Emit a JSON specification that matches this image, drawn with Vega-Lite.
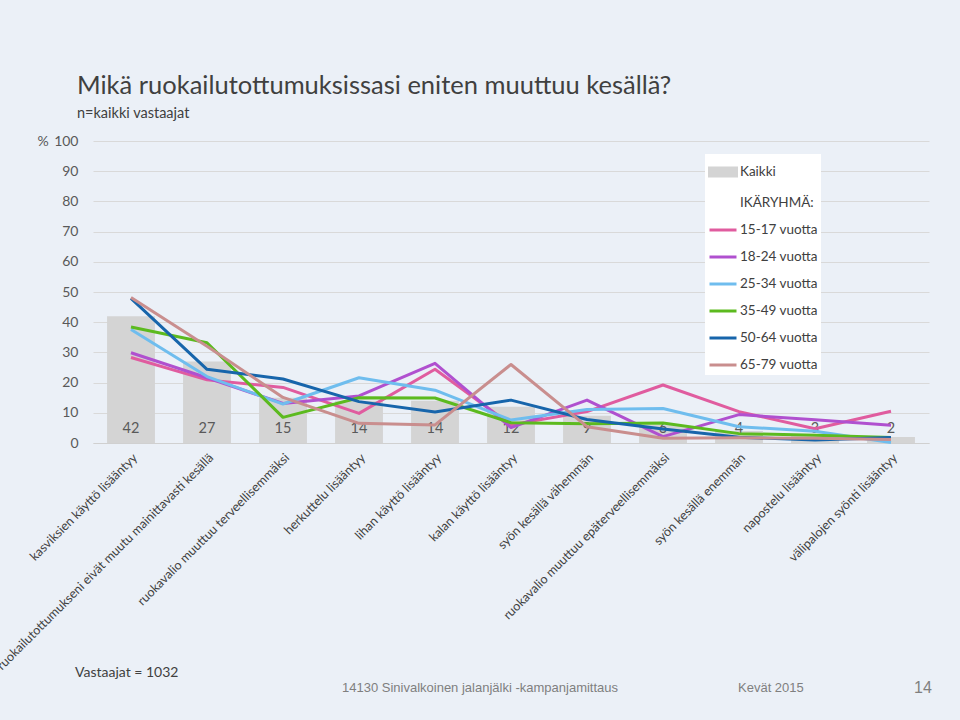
{
  "$schema": "https://vega.github.io/schema/vega-lite/v6.json",
  "width": 836,
  "height": 302,
  "autosize": {"type": "none"},
  "padding": {"left": 93, "top": 141, "right": 31, "bottom": 277},
  "background": "#ebf0f7",
  "title": {
    "text": "Mikä ruokailutottumuksissasi eniten muuttuu kesällä?",
    "subtitle": "n=kaikki vastaajat",
    "anchor": "start",
    "frame": "group",
    "dx": -16,
    "offset": 14,
    "font": "Lato",
    "fontSize": 25.5,
    "fontWeight": "normal",
    "color": "#404040",
    "subtitleFont": "Lato",
    "subtitleFontSize": 14.5,
    "subtitleColor": "#404040",
    "subtitlePadding": 7
  },
  "resolve": {"axis": {"y": "independent"}},
  "config": {
    "view": {"stroke": null},
    "font": "Lato",
    "axisY": {
      "labelOverlap": false,
      "labelFont": "Lato",
      "labelFontSize": 14,
      "labelColor": "#595959",
      "labelPadding": 15,
      "ticks": false,
      "domain": false,
      "grid": true,
      "gridColor": "#d9d9d9",
      "gridWidth": 1,
      "titleAngle": 0,
      "titleX": -56,
      "titleY": 0,
      "titleBaseline": "middle",
      "titleAlign": "left",
      "titleFont": "Lato",
      "titleFontSize": 14,
      "titleFontWeight": "normal",
      "titleColor": "#595959"
    }
  },
  "datasets": {
    "bars": [
      {"kategoria": "kasviksien käyttö lisääntyy", "arvo": 42, "ryhma": "Kaikki"},
      {"kategoria": "ruokailutottumukseni eivät muutu mainittavasti kesällä", "arvo": 27, "ryhma": "Kaikki"},
      {"kategoria": "ruokavalio muuttuu terveellisemmäksi", "arvo": 15, "ryhma": "Kaikki"},
      {"kategoria": "herkuttelu lisääntyy", "arvo": 14, "ryhma": "Kaikki"},
      {"kategoria": "lihan käyttö lisääntyy", "arvo": 14, "ryhma": "Kaikki"},
      {"kategoria": "kalan käyttö lisääntyy", "arvo": 12, "ryhma": "Kaikki"},
      {"kategoria": "syön kesällä vähemmän", "arvo": 9, "ryhma": "Kaikki"},
      {"kategoria": "ruokavalio muuttuu epäterveellisemmäksi", "arvo": 6, "ryhma": "Kaikki"},
      {"kategoria": "syön kesällä enemmän", "arvo": 4, "ryhma": "Kaikki"},
      {"kategoria": "napostelu lisääntyy", "arvo": 3, "ryhma": "Kaikki"},
      {"kategoria": "välipalojen syönti lisääntyy", "arvo": 2, "ryhma": "Kaikki"}
    ],
    "lines": [
      {"kategoria": "kasviksien käyttö lisääntyy", "ryhma": "15-17 vuotta", "arvo": 28.3},
      {"kategoria": "kasviksien käyttö lisääntyy", "ryhma": "18-24 vuotta", "arvo": 29.9},
      {"kategoria": "kasviksien käyttö lisääntyy", "ryhma": "25-34 vuotta", "arvo": 37.6},
      {"kategoria": "kasviksien käyttö lisääntyy", "ryhma": "35-49 vuotta", "arvo": 38.4},
      {"kategoria": "kasviksien käyttö lisääntyy", "ryhma": "50-64 vuotta", "arvo": 47.9},
      {"kategoria": "kasviksien käyttö lisääntyy", "ryhma": "65-79 vuotta", "arvo": 48.2},
      {"kategoria": "ruokailutottumukseni eivät muutu mainittavasti kesällä", "ryhma": "15-17 vuotta", "arvo": 20.9},
      {"kategoria": "ruokailutottumukseni eivät muutu mainittavasti kesällä", "ryhma": "18-24 vuotta", "arvo": 21.6},
      {"kategoria": "ruokailutottumukseni eivät muutu mainittavasti kesällä", "ryhma": "25-34 vuotta", "arvo": 22.0},
      {"kategoria": "ruokailutottumukseni eivät muutu mainittavasti kesällä", "ryhma": "35-49 vuotta", "arvo": 33.2},
      {"kategoria": "ruokailutottumukseni eivät muutu mainittavasti kesällä", "ryhma": "50-64 vuotta", "arvo": 24.4},
      {"kategoria": "ruokailutottumukseni eivät muutu mainittavasti kesällä", "ryhma": "65-79 vuotta", "arvo": 32.0},
      {"kategoria": "ruokavalio muuttuu terveellisemmäksi", "ryhma": "15-17 vuotta", "arvo": 18.4},
      {"kategoria": "ruokavalio muuttuu terveellisemmäksi", "ryhma": "18-24 vuotta", "arvo": 13.1},
      {"kategoria": "ruokavalio muuttuu terveellisemmäksi", "ryhma": "25-34 vuotta", "arvo": 12.9},
      {"kategoria": "ruokavalio muuttuu terveellisemmäksi", "ryhma": "35-49 vuotta", "arvo": 8.5},
      {"kategoria": "ruokavalio muuttuu terveellisemmäksi", "ryhma": "50-64 vuotta", "arvo": 21.2},
      {"kategoria": "ruokavalio muuttuu terveellisemmäksi", "ryhma": "65-79 vuotta", "arvo": 15.1},
      {"kategoria": "herkuttelu lisääntyy", "ryhma": "15-17 vuotta", "arvo": 9.8},
      {"kategoria": "herkuttelu lisääntyy", "ryhma": "18-24 vuotta", "arvo": 15.6},
      {"kategoria": "herkuttelu lisääntyy", "ryhma": "25-34 vuotta", "arvo": 21.6},
      {"kategoria": "herkuttelu lisääntyy", "ryhma": "35-49 vuotta", "arvo": 15.0},
      {"kategoria": "herkuttelu lisääntyy", "ryhma": "50-64 vuotta", "arvo": 13.7},
      {"kategoria": "herkuttelu lisääntyy", "ryhma": "65-79 vuotta", "arvo": 6.5},
      {"kategoria": "lihan käyttö lisääntyy", "ryhma": "15-17 vuotta", "arvo": 24.4},
      {"kategoria": "lihan käyttö lisääntyy", "ryhma": "18-24 vuotta", "arvo": 26.4},
      {"kategoria": "lihan käyttö lisääntyy", "ryhma": "25-34 vuotta", "arvo": 17.5},
      {"kategoria": "lihan käyttö lisääntyy", "ryhma": "35-49 vuotta", "arvo": 14.9},
      {"kategoria": "lihan käyttö lisääntyy", "ryhma": "50-64 vuotta", "arvo": 10.3},
      {"kategoria": "lihan käyttö lisääntyy", "ryhma": "65-79 vuotta", "arvo": 6.0},
      {"kategoria": "kalan käyttö lisääntyy", "ryhma": "15-17 vuotta", "arvo": 6.0},
      {"kategoria": "kalan käyttö lisääntyy", "ryhma": "18-24 vuotta", "arvo": 5.1},
      {"kategoria": "kalan käyttö lisääntyy", "ryhma": "25-34 vuotta", "arvo": 7.6},
      {"kategoria": "kalan käyttö lisääntyy", "ryhma": "35-49 vuotta", "arvo": 6.7},
      {"kategoria": "kalan käyttö lisääntyy", "ryhma": "50-64 vuotta", "arvo": 14.2},
      {"kategoria": "kalan käyttö lisääntyy", "ryhma": "65-79 vuotta", "arvo": 26.0},
      {"kategoria": "syön kesällä vähemmän", "ryhma": "15-17 vuotta", "arvo": 10.4},
      {"kategoria": "syön kesällä vähemmän", "ryhma": "18-24 vuotta", "arvo": 14.2},
      {"kategoria": "syön kesällä vähemmän", "ryhma": "25-34 vuotta", "arvo": 11.1},
      {"kategoria": "syön kesällä vähemmän", "ryhma": "35-49 vuotta", "arvo": 6.4},
      {"kategoria": "syön kesällä vähemmän", "ryhma": "50-64 vuotta", "arvo": 7.8},
      {"kategoria": "syön kesällä vähemmän", "ryhma": "65-79 vuotta", "arvo": 5.4},
      {"kategoria": "ruokavalio muuttuu epäterveellisemmäksi", "ryhma": "15-17 vuotta", "arvo": 19.2},
      {"kategoria": "ruokavalio muuttuu epäterveellisemmäksi", "ryhma": "18-24 vuotta", "arvo": 2.1},
      {"kategoria": "ruokavalio muuttuu epäterveellisemmäksi", "ryhma": "25-34 vuotta", "arvo": 11.4},
      {"kategoria": "ruokavalio muuttuu epäterveellisemmäksi", "ryhma": "35-49 vuotta", "arvo": 6.6},
      {"kategoria": "ruokavalio muuttuu epäterveellisemmäksi", "ryhma": "50-64 vuotta", "arvo": 4.6},
      {"kategoria": "ruokavalio muuttuu epäterveellisemmäksi", "ryhma": "65-79 vuotta", "arvo": 1.6},
      {"kategoria": "syön kesällä enemmän", "ryhma": "15-17 vuotta", "arvo": 10.4},
      {"kategoria": "syön kesällä enemmän", "ryhma": "18-24 vuotta", "arvo": 9.4},
      {"kategoria": "syön kesällä enemmän", "ryhma": "25-34 vuotta", "arvo": 5.4},
      {"kategoria": "syön kesällä enemmän", "ryhma": "35-49 vuotta", "arvo": 3.1},
      {"kategoria": "syön kesällä enemmän", "ryhma": "50-64 vuotta", "arvo": 1.9},
      {"kategoria": "syön kesällä enemmän", "ryhma": "65-79 vuotta", "arvo": 1.7},
      {"kategoria": "napostelu lisääntyy", "ryhma": "15-17 vuotta", "arvo": 4.7},
      {"kategoria": "napostelu lisääntyy", "ryhma": "18-24 vuotta", "arvo": 7.7},
      {"kategoria": "napostelu lisääntyy", "ryhma": "25-34 vuotta", "arvo": 3.9},
      {"kategoria": "napostelu lisääntyy", "ryhma": "35-49 vuotta", "arvo": 2.6},
      {"kategoria": "napostelu lisääntyy", "ryhma": "50-64 vuotta", "arvo": 1.0},
      {"kategoria": "napostelu lisääntyy", "ryhma": "65-79 vuotta", "arvo": 1.6},
      {"kategoria": "välipalojen syönti lisääntyy", "ryhma": "15-17 vuotta", "arvo": 10.5},
      {"kategoria": "välipalojen syönti lisääntyy", "ryhma": "18-24 vuotta", "arvo": 5.9},
      {"kategoria": "välipalojen syönti lisääntyy", "ryhma": "25-34 vuotta", "arvo": 0.2},
      {"kategoria": "välipalojen syönti lisääntyy", "ryhma": "35-49 vuotta", "arvo": 1.8},
      {"kategoria": "välipalojen syönti lisääntyy", "ryhma": "50-64 vuotta", "arvo": 1.8},
      {"kategoria": "välipalojen syönti lisääntyy", "ryhma": "65-79 vuotta", "arvo": 1.2}
    ],
    "footer": [
      {"kategoria": "kasviksien käyttö lisääntyy", "teksti": "Vastaajat = 1032", "rivi": "a"},
      {"kategoria": "kalan käyttö lisääntyy", "teksti": "14130 Sinivalkoinen jalanjälki -kampanjamittaus", "rivi": "b"},
      {"kategoria": "syön kesällä enemmän", "teksti": "Kevät 2015", "rivi": "c"},
      {"kategoria": "välipalojen syönti lisääntyy", "teksti": "14", "rivi": "d"}
    ]
  },
  "encoding": {
    "x": {
      "field": "kategoria",
      "type": "nominal",
      "scale": {
        "domain": [
          "kasviksien käyttö lisääntyy",
          "ruokailutottumukseni eivät muutu mainittavasti kesällä",
          "ruokavalio muuttuu terveellisemmäksi",
          "herkuttelu lisääntyy",
          "lihan käyttö lisääntyy",
          "kalan käyttö lisääntyy",
          "syön kesällä vähemmän",
          "ruokavalio muuttuu epäterveellisemmäksi",
          "syön kesällä enemmän",
          "napostelu lisääntyy",
          "välipalojen syönti lisääntyy"
        ],
        "paddingInner": 0.37,
        "paddingOuter": 0.185
      },
      "axis": {
        "title": null,
        "labelAngle": -45,
        "labelFont": "Lato",
        "labelFontSize": 12.6,
        "labelColor": "#404040",
        "labelLimit": 400,
        "labelPadding": 8,
        "ticks": false,
        "domain": true,
        "domainColor": "#d0d0d0",
        "domainWidth": 1
      }
    }
  },
  "layer": [
    {
      "data": {"name": "bars"},
      "mark": {"type": "bar", "color": "#d4d4d4"},
      "encoding": {
        "y": {
          "field": "arvo",
          "type": "quantitative",
          "scale": {"domain": [0, 100], "nice": false},
          "axis": {"title": "%", "values": [0, 10, 20, 30, 40, 50, 60, 70, 80, 90, 100], "labelOverlap": false}
        },
        "color": {
          "field": "ryhma",
          "type": "nominal",
          "scale": {
            "domain": ["Kaikki", "IKÄRYHMÄ:", "15-17 vuotta", "18-24 vuotta", "25-34 vuotta", "35-49 vuotta", "50-64 vuotta", "65-79 vuotta"],
            "range": ["#d4d4d4", "transparent", "#e05c9f", "#b050cf", "#6fbdee", "#5cba1f", "#1765ab", "#c98e8e"]
          },
          "legend": {
            "title": null,
            "orient": "none",
            "legendX": 612,
            "legendY": 13,
            "fillColor": "white",
            "padding": 3,
            "symbolType": "stroke",
            "symbolSize": 729,
            "symbolStrokeWidth": 3,
            "rowPadding": 5,
            "labelOffset": 2,
            "labelFont": "Lato",
            "labelFontSize": 13.5,
            "labelColor": "#404040",
            "labelLimit": 200,
            "encode": {
              "symbols": {
                "update": {
                  "shape": {"signal": "datum.label === 'Kaikki' ? 'M-1,-0.3H1V0.3H-1Z' : 'stroke'"},
                  "fill": {"signal": "datum.label === 'Kaikki' ? '#d4d4d4' : 'transparent'"},
                  "stroke": {"signal": "datum.label === 'Kaikki' ? 'transparent' : scale('color', datum.value)"},
                  "strokeWidth": {"value": 3},
                  "opacity": {"value": 1}
                }
              }
            }
          }
        }
      }
    },
    {
      "data": {"name": "bars"},
      "mark": {"type": "text", "font": "Lato", "fontSize": 14.5, "color": "#595959", "baseline": "middle"},
      "encoding": {
        "y": {"datum": 4.6, "axis": null},
        "text": {"field": "arvo", "type": "quantitative"}
      }
    },
    {
      "data": {"name": "lines"},
      "mark": {"type": "line", "strokeWidth": 3, "strokeJoin": "round"},
      "encoding": {
        "y": {"field": "arvo", "type": "quantitative", "axis": null},
        "color": {"field": "ryhma", "type": "nominal"}
      }
    },
    {
      "data": {"name": "footer"},
      "transform": [{"filter": "datum.rivi === 'a'"}],
      "mark": {"type": "text", "font": "Lato", "fontSize": 14, "color": "#404040", "align": "left", "dx": -56, "baseline": "middle", "clip": false},
      "encoding": {
        "y": {"datum": -76, "axis": null},
        "text": {"field": "teksti"}
      }
    },
    {
      "data": {"name": "footer"},
      "transform": [{"filter": "datum.rivi === 'b'"}],
      "mark": {"type": "text", "font": "Liberation Sans", "fontSize": 13, "color": "#7f7f7f", "align": "center", "dx": -31, "baseline": "middle", "clip": false},
      "encoding": {
        "y": {"datum": -81, "axis": null},
        "text": {"field": "teksti"}
      }
    },
    {
      "data": {"name": "footer"},
      "transform": [{"filter": "datum.rivi === 'c'"}],
      "mark": {"type": "text", "font": "Liberation Sans", "fontSize": 13, "color": "#7f7f7f", "align": "left", "dx": -1, "baseline": "middle", "clip": false},
      "encoding": {
        "y": {"datum": -81, "axis": null},
        "text": {"field": "teksti"}
      }
    },
    {
      "data": {"name": "footer"},
      "transform": [{"filter": "datum.rivi === 'd'"}],
      "mark": {"type": "text", "font": "Liberation Sans", "fontSize": 16, "color": "#7f7f7f", "align": "center", "dx": 32, "baseline": "middle", "clip": false},
      "encoding": {
        "y": {"datum": -81, "axis": null},
        "text": {"field": "teksti"}
      }
    }
  ]
}
